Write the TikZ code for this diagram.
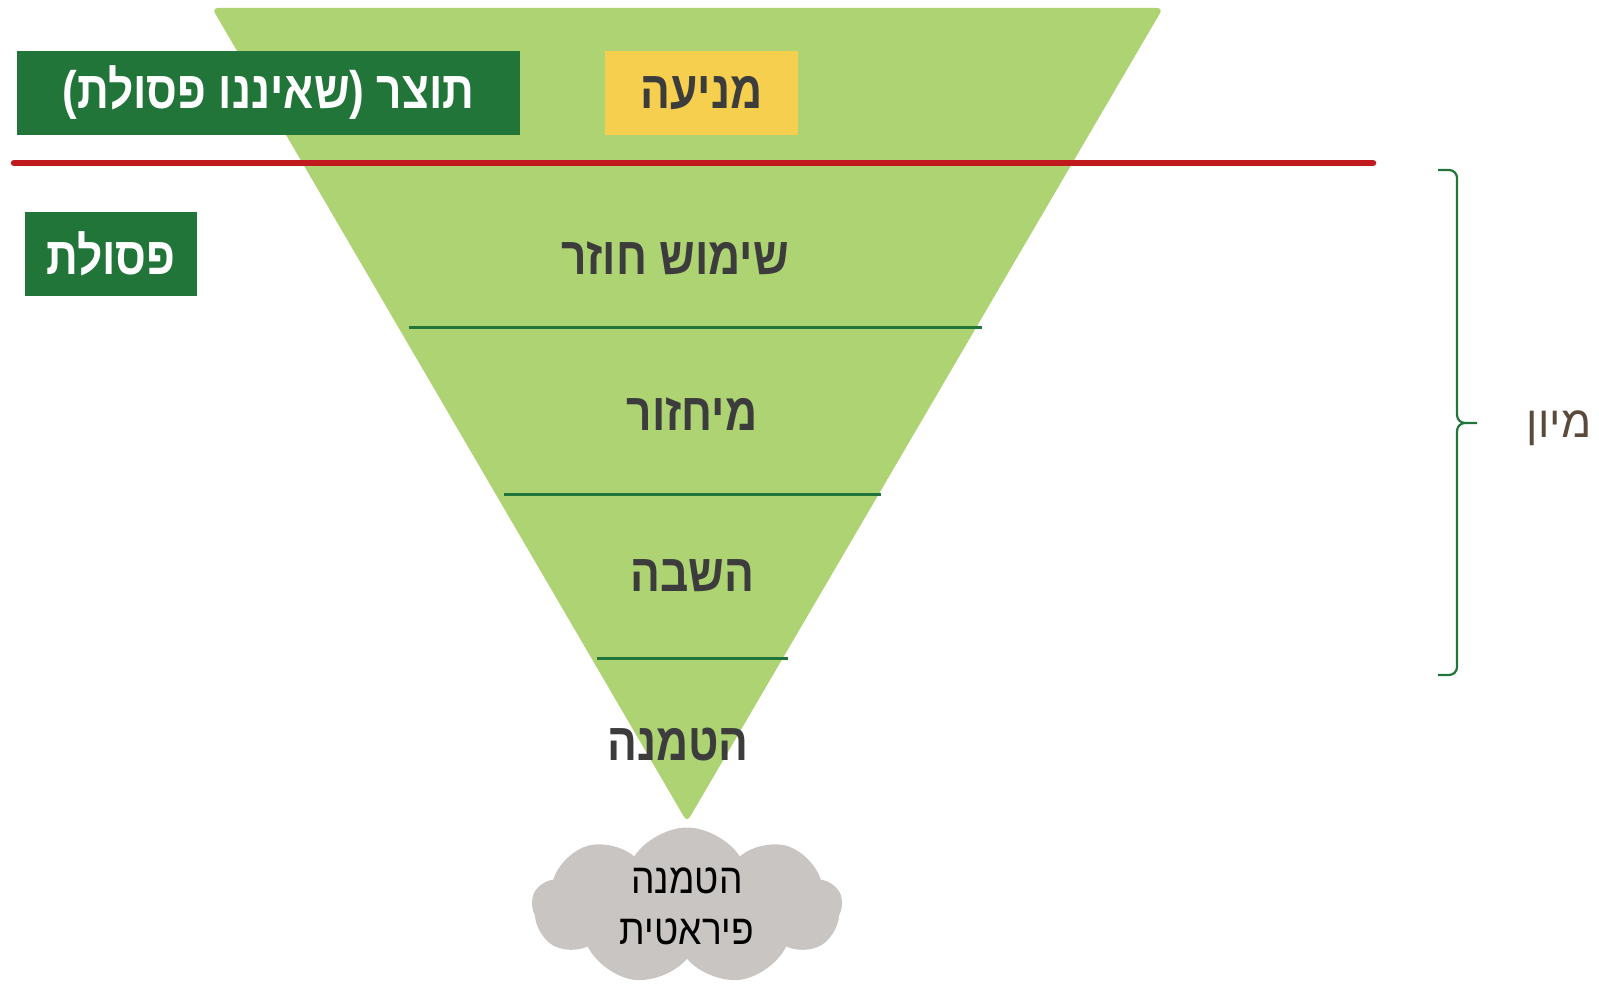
\documentclass[tikz,border=0pt]{standalone}
\usepackage{fontspec}
\newfontfamily\hebfont[Script=Hebrew]{Liberation Sans}
\newfontfamily\hebbold[Script=Hebrew,FakeStretch=0.84]{Liberation Sans Bold}
\newfontfamily\hebthin[Script=Hebrew,FakeStretch=0.88]{Liberation Sans}
\TeXXeTstate=1
\usetikzlibrary{shapes.symbols}

\definecolor{leafgreen}{HTML}{ADD373}
\definecolor{darkgreen}{HTML}{217539}
\definecolor{stopred}{HTML}{C0191E}
\definecolor{sunyellow}{HTML}{F5CF4D}
\definecolor{tiergray}{HTML}{3C3C3C}
\definecolor{cloudgray}{HTML}{C8C5C3}
\definecolor{sortbrown}{HTML}{5B4A3C}

\newcommand{\heb}[1]{\beginR #1\endR}

\tikzset{
  tier/.style={font=\hebbold\fontsize{15}{18}\selectfont, text=tiergray},
  labelbox/.style={minimum height=8.4mm, inner sep=0pt, font=\hebbold\fontsize{15}{18}\selectfont},
  greenbox/.style={labelbox, fill=darkgreen, text=white},
  yellowbox/.style={labelbox, fill=sunyellow, text=tiergray},
  tierline/.style={darkgreen, line width=0.3mm},
}

\begin{document}
\begin{tikzpicture}[x=0.1mm,y=-0.1mm]
    \useasboundingbox (0,0) rectangle (1599,987);

    % the funnel
    \fill[leafgreen, rounded corners=0.6mm] (212,8) -- (1163,8) -- (687,822) -- cycle;
    \draw[tierline] (409,328) -- (982,328);
    \draw[tierline] (504,494) -- (881,494);
    \draw[tierline] (597,658) -- (788,658);

    % top row, above the red line
    \node[greenbox, minimum width=50.3mm] (product) at (268.5,93) {\heb{תוצר (שאיננו פסולת)}};
    \node[yellowbox, minimum width=19.3mm] (prevent) at (701.5,93) {\heb{מניעה}};
    \draw[stopred, line width=0.65mm, line cap=round] (14,163) -- (1373,163);
    \node[greenbox, minimum width=17.2mm] (waste) at (111,254) {\heb{פסולת}};

    % the tiers
    \node[tier] (reuse) at (675,258) {\heb{שימוש חוזר}};
    \node[tier] (recycle) at (692,414) {\heb{מיחזור}};
    \node[tier] (recover) at (692,576) {\heb{השבה}};
    \node[tier] (landfill) at (678,745) {\heb{הטמנה}};

    \node[cloud, cloud puffs=9, cloud puff arc=115, aspect=2, fill=cloudgray,
          minimum width=31mm, minimum height=15.7mm, inner sep=0pt, align=center,
          font=\hebthin\fontsize{12}{14.5}\selectfont] (dumping) at (687,906)
          {\heb{הטמנה}\\\heb{פיראטית}};

    % sorting brace
    \coordinate (sorttip) at (1477,423);
    \draw[darkgreen, line width=0.22mm, rounded corners=0.8mm]
        (1438,170) -| (1457,423) -- (sorttip)
        (1438,675) -| (1457,423) -- (sorttip);
    \node[anchor=base, text=sortbrown, font=\hebfont\fontsize{12.5}{15}\selectfont] (sorting) at (1559,438) {\heb{מיון}};
\end{tikzpicture}
\end{document}
